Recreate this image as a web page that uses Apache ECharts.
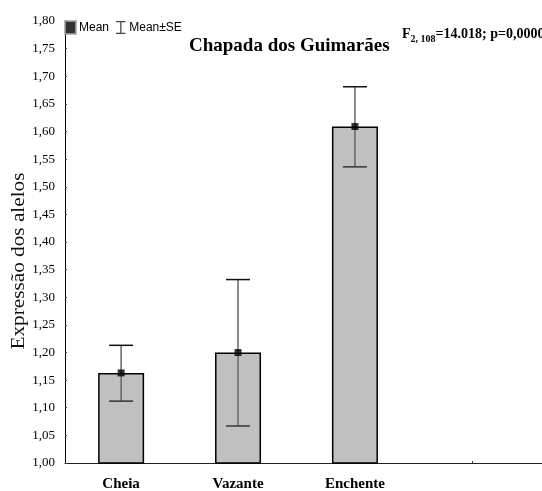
<!DOCTYPE html>
<html>
<head>
<meta charset="utf-8">
<script src="https://cdn.jsdelivr.net/npm/echarts@6/dist/echarts.min.js"></script>
<style>
html,body{margin:0;padding:0;background:#fff;}
#chart{width:542px;height:491px;}
</style>
</head>
<body>
<div id="chart"></div>
<script>
const categories = ['Cheia', 'Vazante', 'Enchente'];
const means = [1.163, 1.200, 1.609];
const seLow = [1.112, 1.067, 1.536];
const seHigh = [1.213, 1.332, 1.681];
const yMin = 1.00, yMax = 1.80, yStep = 0.05;
const titleText = 'Chapada dos Guimarães';
const yName = 'Expressão dos alelos';

const serif = 'Liberation Serif';
const chart = echarts.init(document.getElementById('chart'), null, {renderer: 'canvas'});

const barData = categories.map((c, i) => [i + 1, means[i]]);
const errData = categories.map((c, i) => [i + 1, seLow[i], seHigh[i]]);

chart.setOption({
  animation: false,
  backgroundColor: '#fff',
  grid: {left: 65, right: 0, top: 21, bottom: 28, containLabel: false, outerBoundsMode: 'none'},
  title: [
    {text: titleText, left: 189, top: 37, padding: 0,
     textStyle: {fontFamily: serif, fontWeight: 'bold', fontSize: 19, color: '#000'}},
    {text: '{b|F}{s|2, 108}{b|=14.018; p=0,0000}', left: 402, top: 27, padding: 0,
     textStyle: {rich: {
       b: {fontFamily: serif, fontWeight: 'bold', fontSize: 14, color: '#000', verticalAlign: 'bottom'},
       s: {fontFamily: serif, fontWeight: 'bold', fontSize: 10, color: '#000', verticalAlign: 'bottom', padding: [0,0,-3,0]}
     }}}
  ],
  legend: {
    left: 64, top: 20, padding: 0, itemGap: 7, itemWidth: 11, itemHeight: 13,
    textStyle: {fontFamily: 'Liberation Sans', fontSize: 12, color: '#000', padding: [0,0,0,-2]},
    data: [
      {name: 'Mean', icon: 'rect', itemStyle: {color: '#000', borderColor: '#a8a8a8', borderWidth: 2}},
      {name: 'Mean±SE', icon: 'path://M0,0h9v1.2h-9z M4,1.2h1.2v10h-1.2z M0,11.2h9v1.2h-9z',
       itemStyle: {color: '#444', borderWidth: 0}}
    ]
  },
  graphic: [{
    type: 'text', x: 19, y: 261, rotation: Math.PI / 2, scaleX: 1.18,
    style: {text: yName, font: '18px "' + serif + '"', fill: '#111', align: 'center', verticalAlign: 'middle'}
  }],
  xAxis: {
    type: 'value', min: 0.52, max: 4.6,
    splitLine: {show: false},
    axisLine: {show: true, lineStyle: {color: '#222', width: 1}},
    axisTick: {show: true, inside: true, length: 2, customValues: [1, 2, 3, 4], lineStyle: {color: '#444'}},
    axisLabel: {customValues: [1, 2, 3], formatter: v => categories[Math.round(v) - 1] || '',
      fontFamily: serif, fontWeight: 'bold', fontSize: 15, color: '#000', margin: 14}
  },
  yAxis: {
    type: 'value', min: yMin, max: yMax, interval: yStep,
    splitLine: {show: false},
    axisLine: {show: true, lineStyle: {color: '#000', width: 1}},
    axisTick: {show: true, inside: true, length: 2, lineStyle: {color: '#444'}},
    axisLabel: {formatter: v => v.toFixed(2).replace('.', ','), fontFamily: serif, fontSize: 13, color: '#000', margin: 10}
  },
  series: [
    {
      type: 'bar', name: 'bars', data: barData, barWidth: 46, clip: true,
      itemStyle: {color: '#c0c0c0', borderColor: '#000', borderWidth: 1.5}, z: 2
    },
    {
      type: 'custom', name: 'Mean±SE', data: errData, z: 3,
      itemStyle: {color: '#444'},
      renderItem: function (params, api) {
        const x = api.value(0);
        const lo = api.coord([x, api.value(1)]);
        const hi = api.coord([x, api.value(2)]);
        const h = 12;
        return {type: 'group', children: [
          {type: 'line', shape: {x1: hi[0], y1: hi[1], x2: lo[0], y2: lo[1]}, style: {stroke: '#666', lineWidth: 1.5}},
          {type: 'line', shape: {x1: hi[0] - h, y1: hi[1], x2: hi[0] + h, y2: hi[1]}, style: {stroke: '#111', lineWidth: 1.5}},
          {type: 'line', shape: {x1: lo[0] - h, y1: lo[1], x2: lo[0] + h, y2: lo[1]}, style: {stroke: '#333', lineWidth: 1.5}}
        ]};
      }
    },
    {
      type: 'scatter', name: 'Mean', data: barData, symbol: 'rect', symbolSize: 7, z: 4,
      itemStyle: {color: '#000'}
    }
  ]
});
</script>
</body>
</html>
